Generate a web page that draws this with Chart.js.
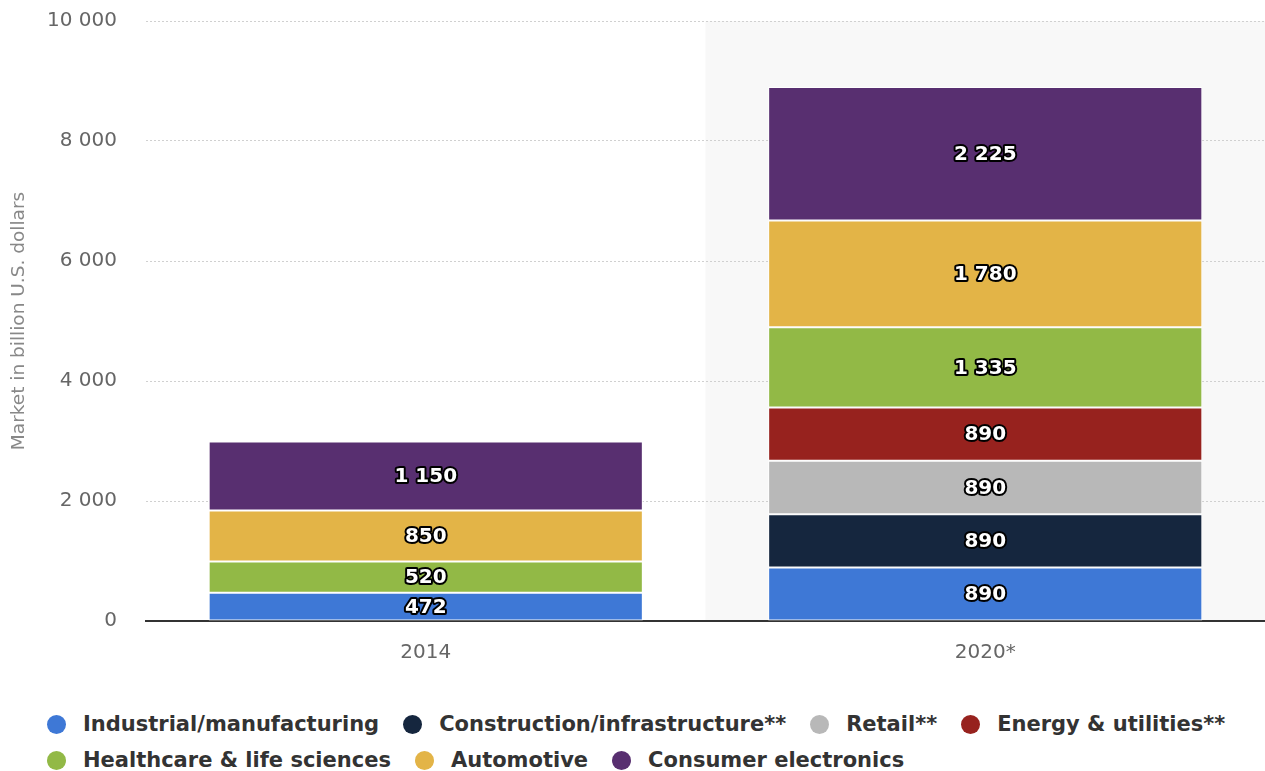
<!DOCTYPE html>
<html>
<head>
<meta charset="utf-8">
<script src="https://cdn.jsdelivr.net/npm/chart.js@4/dist/chart.umd.min.js"></script>
<style>
  html, body { margin: 0; padding: 0; background: #fff; }
  #wrap { position: relative; width: 1265px; height: 680px; }
  #legend {
    display: flex; flex-wrap: wrap; width: 1265px;
    padding: 26px 0 0 47px; box-sizing: border-box;
    font-family: "DejaVu Sans", sans-serif; font-weight: bold; font-size: 21px; color: #333;
  }
  .item { display: flex; align-items: center; margin-right: 24px; height: 36px; }
  .dot { width: 19px; height: 19px; border-radius: 50%; margin-right: 17px; }
</style>
</head>
<body>
<div id="wrap"><canvas id="chart"></canvas></div>
<div id="legend"></div>
<script>
const years = ["2014", "2020*"];
const seriesNames = [
  "Industrial/manufacturing",
  "Construction/infrastructure**",
  "Retail**",
  "Energy & utilities**",
  "Healthcare & life sciences",
  "Automotive",
  "Consumer electronics"
];
const industrial = [472, 890];
const construction = [null, 890];
const retail = [null, 890];
const energy = [null, 890];
const healthcare = [520, 1335];
const automotive = [850, 1780];
const consumer = [1150, 2225];
const colors = ["#3e78d6", "#15263e", "#b8b8b8", "#97221e", "#92b946", "#e3b447", "#582f70"];
const yTicks = [0, 2000, 4000, 6000, 8000, 10000];

const seriesValues = [industrial, construction, retail, energy, healthcare, automotive, consumer];

function fmt(v) {
  return String(v).replace(/\B(?=(\d{3})+(?!\d))/g, " ");
}

const bandPlugin = {
  id: "band",
  beforeDraw(chart) {
    const { ctx, chartArea, scales } = chart;
    const mid = (scales.x.getPixelForValue(0) + scales.x.getPixelForValue(1)) / 2;
    ctx.save();
    ctx.fillStyle = "#f8f8f8";
    ctx.fillRect(mid, chartArea.top, chartArea.right - mid, chartArea.bottom - chartArea.top);
    ctx.restore();
  }
};

const labelPlugin = {
  id: "labels",
  afterDatasetsDraw(chart) {
    const ctx = chart.ctx;
    ctx.save();
    ctx.font = "bold 20px 'DejaVu Sans', sans-serif";
    ctx.textAlign = "center";
    ctx.textBaseline = "middle";
    ctx.lineJoin = "round";
    chart.data.datasets.forEach((ds, i) => {
      const meta = chart.getDatasetMeta(i);
      meta.data.forEach((bar, j) => {
        const v = ds.data[j];
        if (v == null) return;
        const y = (bar.y + bar.base) / 2;
        const t = fmt(v);
        ctx.lineWidth = 4;
        ctx.strokeStyle = "#000";
        ctx.strokeText(t, bar.x, y + 1);
        ctx.fillStyle = "#fff";
        ctx.fillText(t, bar.x, y + 1);
      });
    });
    ctx.restore();
  }
};

new Chart(document.getElementById("chart"), {
  type: "bar",
  data: {
    labels: years,
    datasets: seriesNames.map((name, i) => ({
      label: name,
      data: seriesValues[i],
      backgroundColor: colors[i],
      borderColor: "#ffffff",
      borderWidth: 1,
      borderSkipped: false,
      categoryPercentage: 0.776,
      barPercentage: 1
    }))
  },
  options: {
    responsive: true,
    maintainAspectRatio: false,
    animation: false,
    layout: { padding: { top: 21, right: 0, left: 0, bottom: 0 } },
    plugins: { legend: { display: false }, tooltip: { enabled: false } },
    scales: {
      x: {
        stacked: true,
        grid: { display: false },
        border: { display: true, color: "#333", width: 2 },
        ticks: { color: "#666", font: { family: "DejaVu Sans", size: 20 }, padding: 12 },
        afterFit(scale) { scale.height = 59; scale.paddingLeft = 0; scale.paddingRight = 0; }
      },
      y: {
        stacked: true,
        min: 0,
        max: 10000,
        afterBuildTicks(scale) { scale.ticks = yTicks.map(v => ({ value: v })); },
        border: { display: false, dash: [2, 2] },
        grid: {
          color: ctx => ctx.tick && ctx.tick.value === 0 ? "rgba(0,0,0,0)" : "#d0d0d0",
          drawTicks: false,
          lineWidth: 1
        },
        ticks: {
          color: "#666",
          font: { family: "DejaVu Sans", size: 20 },
          padding: 29,
          callback: v => fmt(v)
        },
        title: {
          display: true,
          text: "Market in billion U.S. dollars",
          color: "#888",
          font: { family: "DejaVu Sans", size: 18.5 },
          padding: { top: 8, bottom: 0 }
        },
        afterFit(scale) { scale.width = 146; scale.paddingTop = 0; scale.paddingBottom = 0; }
      }
    }
  },
  plugins: [bandPlugin, labelPlugin]
});

const legend = document.getElementById("legend");
seriesNames.forEach((name, i) => {
  const item = document.createElement("div");
  item.className = "item";
  const dot = document.createElement("span");
  dot.className = "dot";
  dot.style.background = colors[i];
  const txt = document.createElement("span");
  txt.textContent = name;
  item.appendChild(dot);
  item.appendChild(txt);
  legend.appendChild(item);
});
</script>
</body>
</html>
